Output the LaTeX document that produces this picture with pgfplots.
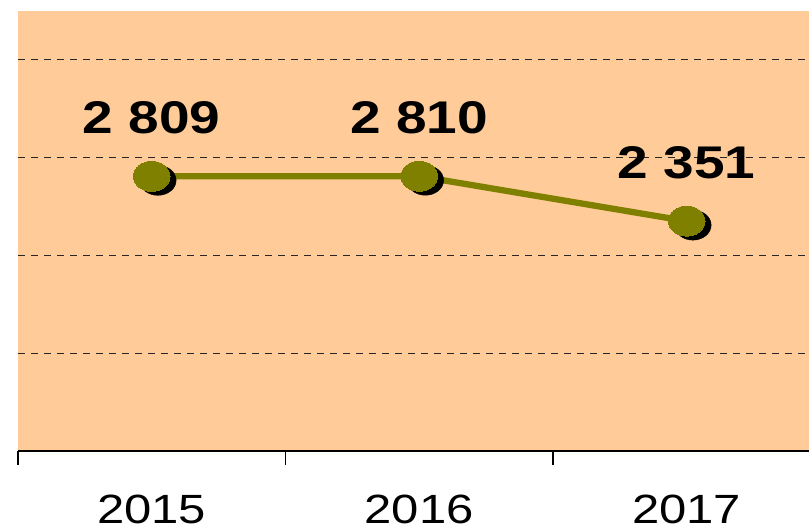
\documentclass[border=0pt]{standalone}
\usepackage{fontspec}
\setmainfont{Liberation Sans}[FakeStretch=1.2]
\usepackage{pgfplots}
\pgfplotsset{compat=1.18}
\definecolor{peach}{HTML}{FFCC99}
\definecolor{olivel}{HTML}{808000}
\begin{document}
\begin{tikzpicture}
\useasboundingbox (-18bp,-80bp) rectangle (791bp,451bp);
\begin{axis}[
  at={(0,0)}, anchor=south west,
  scale only axis, width=791bp, height=440bp,
  xmin=-0.5, xmax=2.457, ymin=0, ymax=4500,
  axis background/.style={fill=peach},
  separate axis lines,
  axis x line*=bottom, axis y line*=left,
  y axis line style={draw=none},
  x axis line style={line width=1.3bp, black},
  ytick={1000,2000,3000,4000}, yticklabels={},
  ytick style={draw=none},
  ymajorgrids,
  major grid style={dash pattern=on 7bp off 6bp, line width=1bp, black!85},
  xtick={0,1,2}, xticklabels={2015,2016,2017},
  tick align=outside,
  major tick length=0pt,
  extra x ticks={-0.5,0.5,1.5},
  extra x tick labels={},
  extra x tick style={major tick length=14bp, grid=none, tick style={line width=1.3bp, black}},
  xticklabel style={anchor=base, inner sep=0pt, yshift=-72bp, font=\fontsize{41}{45}\selectfont},
  clip=false,
  /pgf/number format/assume math mode=true,
]
\addplot[only marks, mark=*, mark size=15bp, mark options={xscale=1.22, xshift=5bp, yshift=-4bp, fill=black, draw=black}]
  coordinates {(0,2809) (1,2810) (2,2351)};
\addplot[olivel, line width=6.3bp, mark=*, mark size=15bp, mark options={xscale=1.22, fill=olivel, draw=olivel, line width=0pt},
  nodes near coords={\pgfmathprintnumber[fixed, precision=0, 1000 sep={\ }]{\pgfplotspointmeta}},
  every node near coord/.append style={anchor=base, yshift=43bp, black, font=\bfseries\fontsize{46}{50}\selectfont}]
  coordinates {(0,2809) (1,2810) (2,2351)};
\end{axis}
\end{tikzpicture}
\end{document}
